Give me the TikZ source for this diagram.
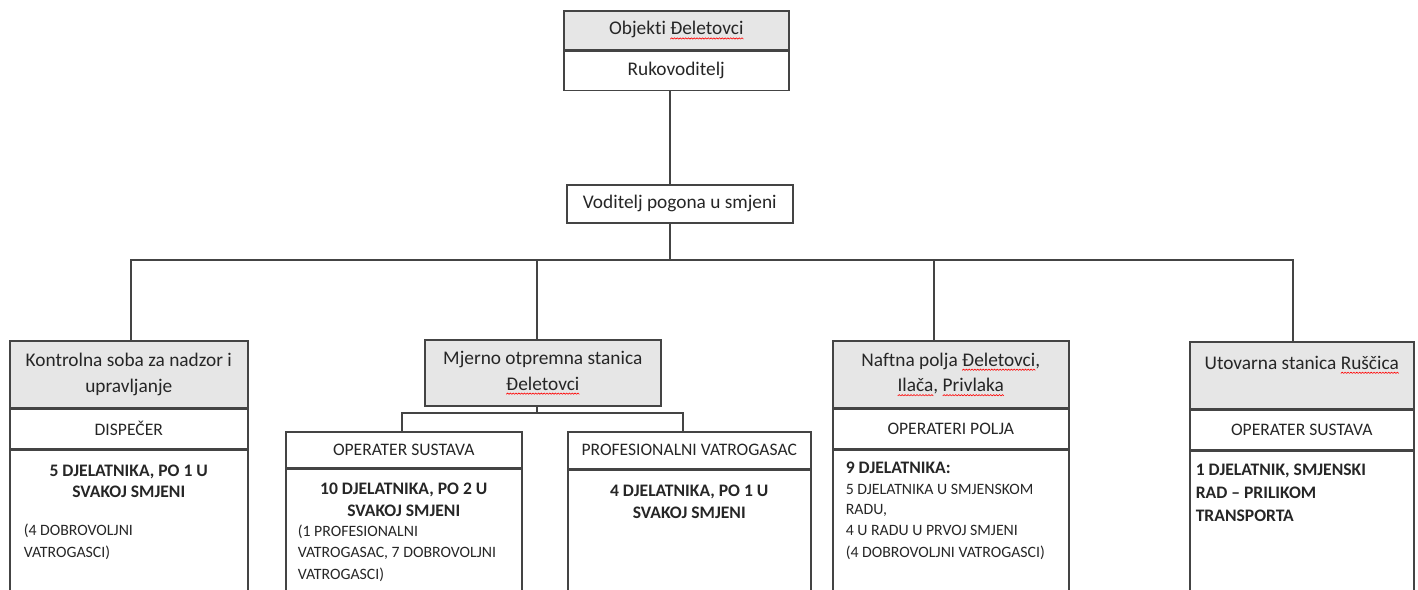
\documentclass[tikz,border=0pt]{standalone}
\usepackage{fontspec}
\setmainfont{Carlito}[Ligatures={TeX,NoCommon}]
\usetikzlibrary{positioning}

\definecolor{hdrgray}{RGB}{230,230,230}
\definecolor{edge}{RGB}{68,68,68}

% red spell-check squiggle under a word
\newsavebox{\wseg}
\newsavebox{\wword}
\sbox{\wseg}{\tikz[x=1pt,y=1pt]{\useasboundingbox (0,0) rectangle (1.6,0.7);
  \draw[red, line width=0.35pt] (0,0) -- (0.8,0.7) -- (1.6,0);}}
\newcommand{\redwave}[1]{\sbox{\wword}{#1}%
  \rlap{\raisebox{-2.4pt}{\hbox to \wd\wword{\xleaders\copy\wseg\hfil}}}\usebox{\wword}}
\newcommand{\sml}{\fontsize{9}{11.8}\selectfont\mdseries}

\begin{document}
\begin{tikzpicture}[x=0.02cm, y=-0.02cm,
    box/.style={draw=edge, line width=0.9pt, inner sep=0pt, anchor=north west, align=center, text=black!85},
    hdr/.style={box, fill=hdrgray, font=\fontsize{11}{14.5}\selectfont},
    role/.style={box, font=\fontsize{10}{12}\selectfont},
    body/.style={box, minimum height=3.4cm},
    txt/.style={inner sep=0pt, align=flush left, text=black!85, font=\fontsize{10}{12.3}\selectfont\bfseries},
    link/.style={draw=edge, line width=0.9pt},
    divider/.style={draw=edge, line width=1.6pt}]
  \useasboundingbox (0,0) rectangle (1418,590);
  \clip (0,0) rectangle (1418,590);

  % top
  \node[hdr, minimum width=4.5cm, minimum height=0.78cm] (obj) at (563,10) {Objekti \redwave{Đeletovci}};
  \node[box, font=\fontsize{11}{14.5}\selectfont, minimum width=4.5cm, minimum height=0.78cm] (ruk) at (obj.south west) {Rukovoditelj};
  \draw[divider] (ruk.north west) -- (ruk.north east);
  \node[box, font=\fontsize{11}{14.5}\selectfont, minimum width=4.52cm, minimum height=0.76cm] (vod) at (566,184) {Voditelj pogona u smjeni};

  % kontrolna soba
  \node[hdr, minimum width=4.76cm, minimum height=1.34cm] (kontrola) at (9,340) {Kontrolna soba za nadzor i\\upravljanje};
  \node[role, minimum width=4.76cm, minimum height=0.78cm] (dispecer) at (kontrola.south west) {DISPEČER};
  \node[body, minimum width=4.76cm] (kontrolaBody) at (dispecer.south west) {};
  \draw[divider] (kontrolaBody.north west) -- (kontrolaBody.north east);
  \node[txt, text width=4.2cm, below=0.3cm of kontrolaBody.north] (kontrolaTxt)
    {{\centering 5 DJELATNIKA, PO 1 U\\SVAKOJ SMJENI\par}\vspace{10pt}
     \sml (4 DOBROVOLJNI\\VATROGASCI)};

  % mjerno otpremna stanica
  \node[hdr, minimum width=4.72cm, minimum height=1.32cm] (mjerno) at (424,339) {Mjerno otpremna stanica\\\redwave{Đeletovci}};
  \node[role, minimum width=4.72cm, minimum height=0.72cm] (opsus) at (285,431) {OPERATER SUSTAVA};
  \node[body, minimum width=4.72cm] (opsusBody) at (opsus.south west) {};
  \draw[divider] (opsusBody.north west) -- (opsusBody.north east);
  \node[txt, text width=4.24cm, below=0.28cm of opsusBody.north] (opsusTxt)
    {{\centering 10 DJELATNIKA, PO 2 U\\SVAKOJ SMJENI\par}
     \sml (1 PROFESIONALNI\\VATROGASAC, 7 DOBROVOLJNI\\VATROGASCI)};
  \node[role, minimum width=4.86cm, minimum height=0.74cm] (prof) at (567,431) {PROFESIONALNI VATROGASAC};
  \node[body, minimum width=4.86cm] (profBody) at (prof.south west) {};
  \draw[divider] (profBody.north west) -- (profBody.north east);
  \node[txt, text width=4.3cm, below=0.3cm of profBody.north] (profTxt)
    {{\centering 4 DJELATNIKA, PO 1 U\\SVAKOJ SMJENI\par}};

  % naftna polja
  \node[hdr, minimum width=4.72cm, minimum height=1.34cm] (naftna) at (832,340) {Naftna polja \redwave{Đeletovci},\\\redwave{Ilača}, \redwave{Privlaka}};
  \node[role, minimum width=4.72cm, minimum height=0.78cm] (operateri) at (naftna.south west) {OPERATERI POLJA};
  \node[body, minimum width=4.72cm] (naftnaBody) at (operateri.south west) {};
  \draw[divider] (naftnaBody.north west) -- (naftnaBody.north east);
  \node[txt, text width=4.2cm, below=0.25cm of naftnaBody.north] (naftnaTxt)
    {9 DJELATNIKA:\par
     \sml 5 DJELATNIKA U SMJENSKOM\\RADU,\\4 U RADU U PRVOJ SMJENI\\(4 DOBROVOLJNI VATROGASCI)};

  % utovarna stanica
  \node[hdr, minimum width=4.48cm, minimum height=1.34cm] (utovar) at (1189,341) {Utovarna stanica \redwave{Ruščica}\\\mbox{}};
  \node[role, minimum width=4.48cm, minimum height=0.78cm] (opsusB) at (utovar.south west) {OPERATER SUSTAVA};
  \node[body, minimum width=4.48cm] (utovarBody) at (opsusB.south west) {};
  \draw[divider] (utovarBody.north west) -- (utovarBody.north east);
  \node[txt, text width=4.24cm, below=0.27cm of utovarBody.north, font=\fontsize{10}{13}\selectfont\bfseries] (utovarTxt)
    {1 DJELATNIK, SMJENSKI\\RAD -- PRILIKOM\\TRANSPORTA};

  % connectors
  \coordinate (trunk) at (670,260);
  \coordinate (b1) at (131,260);
  \coordinate (b2) at (537,260);
  \coordinate (b3) at (934,260);
  \coordinate (b4) at (1293,260);
  \coordinate (s1) at (402,413);
  \coordinate (s2) at (683,413);
  \draw[link] (ruk.south -| trunk) -- (vod.north -| trunk);
  \draw[link] (vod.south -| trunk) -- (trunk);
  \draw[link] (b1 |- kontrola.north) -- (b1) -- (b4) -- (b4 |- utovar.north);
  \draw[link] (b2) -- (b2 |- mjerno.north);
  \draw[link] (b3) -- (b3 |- naftna.north);
  \draw[link] (mjerno.south -| b2) -- (b2 |- s1);
  \draw[link] (s1 |- opsus.north) -- (s1) -- (s2) -- (s2 |- prof.north);

\end{tikzpicture}
\end{document}
